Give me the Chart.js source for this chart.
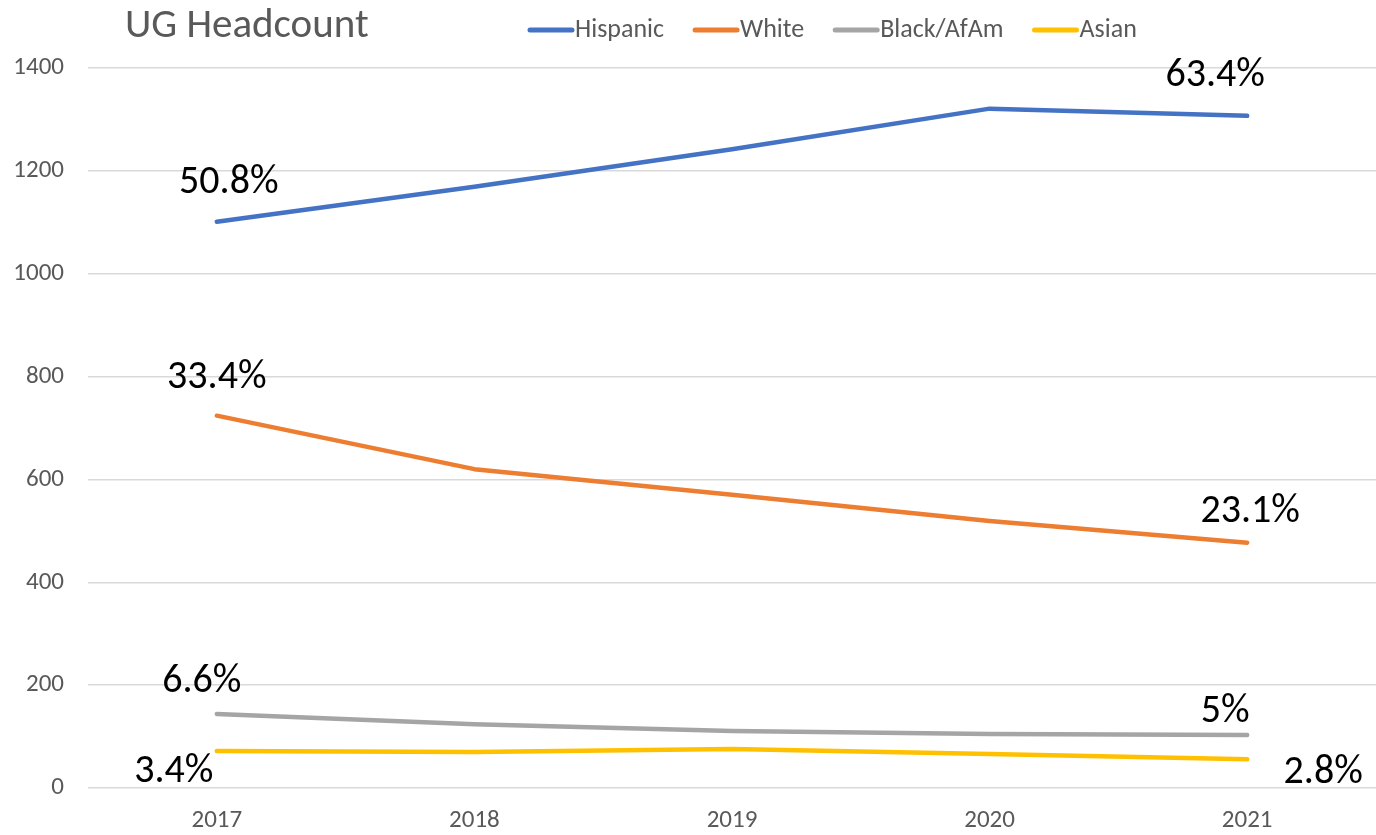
<!DOCTYPE html>
<html>
<head>
<meta charset="utf-8">
<title>UG Headcount</title>
<script src="https://cdn.jsdelivr.net/npm/chart.js@4/dist/chart.umd.min.js"></script>
<style>
  html, body { margin: 0; padding: 0; background: #fff; }
  #wrap { width: 1376px; height: 835px; position: relative; }
</style>
</head>
<body>
<div id="wrap"><canvas id="ugChart" width="1376" height="835"></canvas></div>
<script>
// values
const years = ['2017', '2018', '2019', '2020', '2021'];
const seriesNames = ['Hispanic', 'White', 'Black/AfAm', 'Asian'];
const hispanic = [1101, 1169, 1242, 1321, 1307];
const white = [724, 620, 570, 519, 477];
const blackAfAm = [144, 124, 111, 105, 103];
const asian = [72, 70, 76, 66, 56];
const firstShares = ['50.8%', '33.4%', '6.6%', '3.4%'];
const lastShares = ['63.4%', '23.1%', '5%', '2.8%'];
const yMin = 0, yMax = 1400, yStep = 200;

const colors = ['#4472C4', '#ED7D31', '#A5A5A5', '#FFC000'];
const FONT = 'Carlito, Lato, sans-serif';
const GREY = '#595959';

// where each share label sits relative to its point (dx, dy)
const firstOffsets = [[12, -39], [0, -38], [-15, -32], [-43, 21]];
const lastOffsets = [[-32, -40], [3, -31], [-22, -23], [76, 14]];

// draws the title, the legend row and the percent labels
const decorations = {
    id: 'decorations',
    afterDatasetsDraw(chart) {
        const ctx = chart.ctx;
        ctx.save();
        ctx.textBaseline = 'middle';

        // share labels at first and last point of each line
        ctx.fillStyle = '#000';
        ctx.font = '40px ' + FONT;
        ctx.textAlign = 'center';
        chart.data.datasets.forEach((ds, i) => {
            const pts = chart.getDatasetMeta(i).data;
            const a = pts[0], b = pts[pts.length - 1];
            ctx.fillText(firstShares[i], a.x + firstOffsets[i][0], a.y + firstOffsets[i][1]);
            ctx.fillText(lastShares[i], b.x + lastOffsets[i][0], b.y + lastOffsets[i][1]);
        });

        // title
        ctx.fillStyle = GREY;
        ctx.textAlign = 'left';
        ctx.font = '41px ' + FONT;
        ctx.fillText('UG Headcount', 125, 27);

        // legend
        ctx.font = '26px ' + FONT;
        let x = 530;
        const y = 30;
        chart.data.datasets.forEach(ds => {
            ctx.strokeStyle = ds.borderColor;
            ctx.lineWidth = 5;
            ctx.lineCap = 'round';
            ctx.beginPath();
            ctx.moveTo(x, y);
            ctx.lineTo(x + 42, y);
            ctx.stroke();
            ctx.fillStyle = GREY;
            ctx.fillText(ds.label, x + 45, y);
            x += 45 + ctx.measureText(ds.label).width + 31;
        });
        ctx.restore();
    }
};

const allValues = [hispanic, white, blackAfAm, asian];

new Chart(document.getElementById('ugChart'), {
    type: 'line',
    data: {
        labels: years,
        datasets: allValues.map((vals, i) => ({
            label: seriesNames[i],
            data: vals,
            borderColor: colors[i],
            backgroundColor: colors[i],
            borderWidth: 4.5,
            borderCapStyle: 'round',
            borderJoinStyle: 'round',
            pointRadius: 0,
            tension: 0
        }))
    },
    options: {
        responsive: false,
        animation: false,
        devicePixelRatio: 1,
        layout: { padding: { top: 68, right: 0, bottom: 0, left: 0 } },
        plugins: {
            legend: { display: false },
            title: { display: false },
            tooltip: { enabled: false }
        },
        scales: {
            x: {
                offset: true,
                grid: { display: false, drawTicks: false },
                border: { display: false },
                ticks: { color: GREY, font: { family: FONT, size: 25 }, padding: 18 },
                afterFit: s => { s.height = 47; }
            },
            y: {
                min: yMin,
                max: yMax,
                grid: { color: '#d9d9d9', lineWidth: 1.5, drawTicks: false },
                border: { display: false },
                ticks: {
                    stepSize: yStep,
                    color: GREY,
                    font: { family: FONT, size: 25 },
                    padding: 24,
                    callback: v => String(v)
                },
                afterFit: s => { s.width = 88; }
            }
        }
    },
    plugins: [decorations]
});
</script>
</body>
</html>
